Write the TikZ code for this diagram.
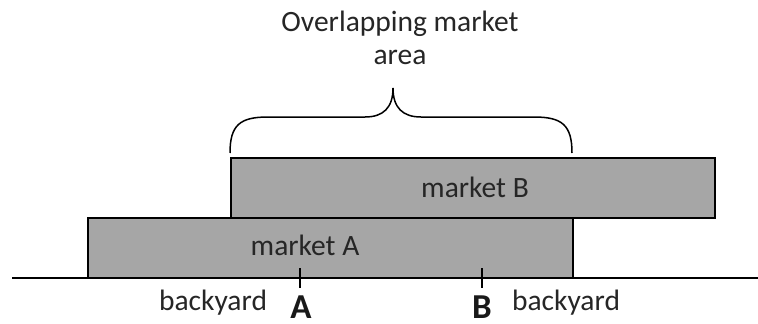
\documentclass[tikz,border=0pt]{standalone}
\usepackage{fontspec}
\setmainfont{Carlito}
\begin{document}
\begin{tikzpicture}[x=1pt,y=-1pt,
  mkt/.style={draw=black,line width=1.8pt,fill=black!35,minimum height=60pt,inner sep=0pt},
  lbl/.style={font=\fontsize{29.5}{33}\selectfont,text=black!85,inner sep=0pt},
  pt/.style={font=\bfseries\fontsize{35}{38}\selectfont,text=black!90,inner sep=0pt,anchor=base}]
\useasboundingbox (0,0) rectangle (758,324);
% market areas
\node[mkt,minimum width=484pt,anchor=north west] (mB) at (230,157) {};
\node[mkt,minimum width=485pt,anchor=north west] (mA) at (87,217) {};
\node[lbl] (tB) at (475,187) {market B};
\node[lbl] (tA) at (305,245) {market A};
% ground line
\coordinate (g0) at (12,278);
\coordinate (g1) at (758,278);
\draw[line width=2.6pt] (g0) -- (g1);
% town locations
\coordinate (a0) at (300,268); \coordinate (a1) at (300,288);
\coordinate (b0) at (482,268); \coordinate (b1) at (482,288);
\draw[line width=2.8pt] (a0) -- (a1);
\draw[line width=2.8pt] (b0) -- (b1);
\node[pt] (A) at (301,318) {A};
\node[pt] (B) at (482,318) {B};
\node[lbl] (byA) at (213,303) {backyard};
\node[lbl] (byB) at (566,303) {backyard};
% brace over the overlap
\coordinate (bl) at (230,153);
\coordinate (br) at (572,153);
\coordinate (bt) at (393,88);
\draw[line width=1.5pt] (bl) .. controls (230,125) and (240,117) .. (268,117)
  -- (365,117) .. controls (383,117) and (393,108) .. (bt)
  .. controls (393,108) and (403,117) .. (421,117)
  -- (534,117) .. controls (562,117) and (572,125) .. (br);
\node[lbl,align=center] (ttl) at (400,38) {Overlapping market\\area};
\end{tikzpicture}
\end{document}
